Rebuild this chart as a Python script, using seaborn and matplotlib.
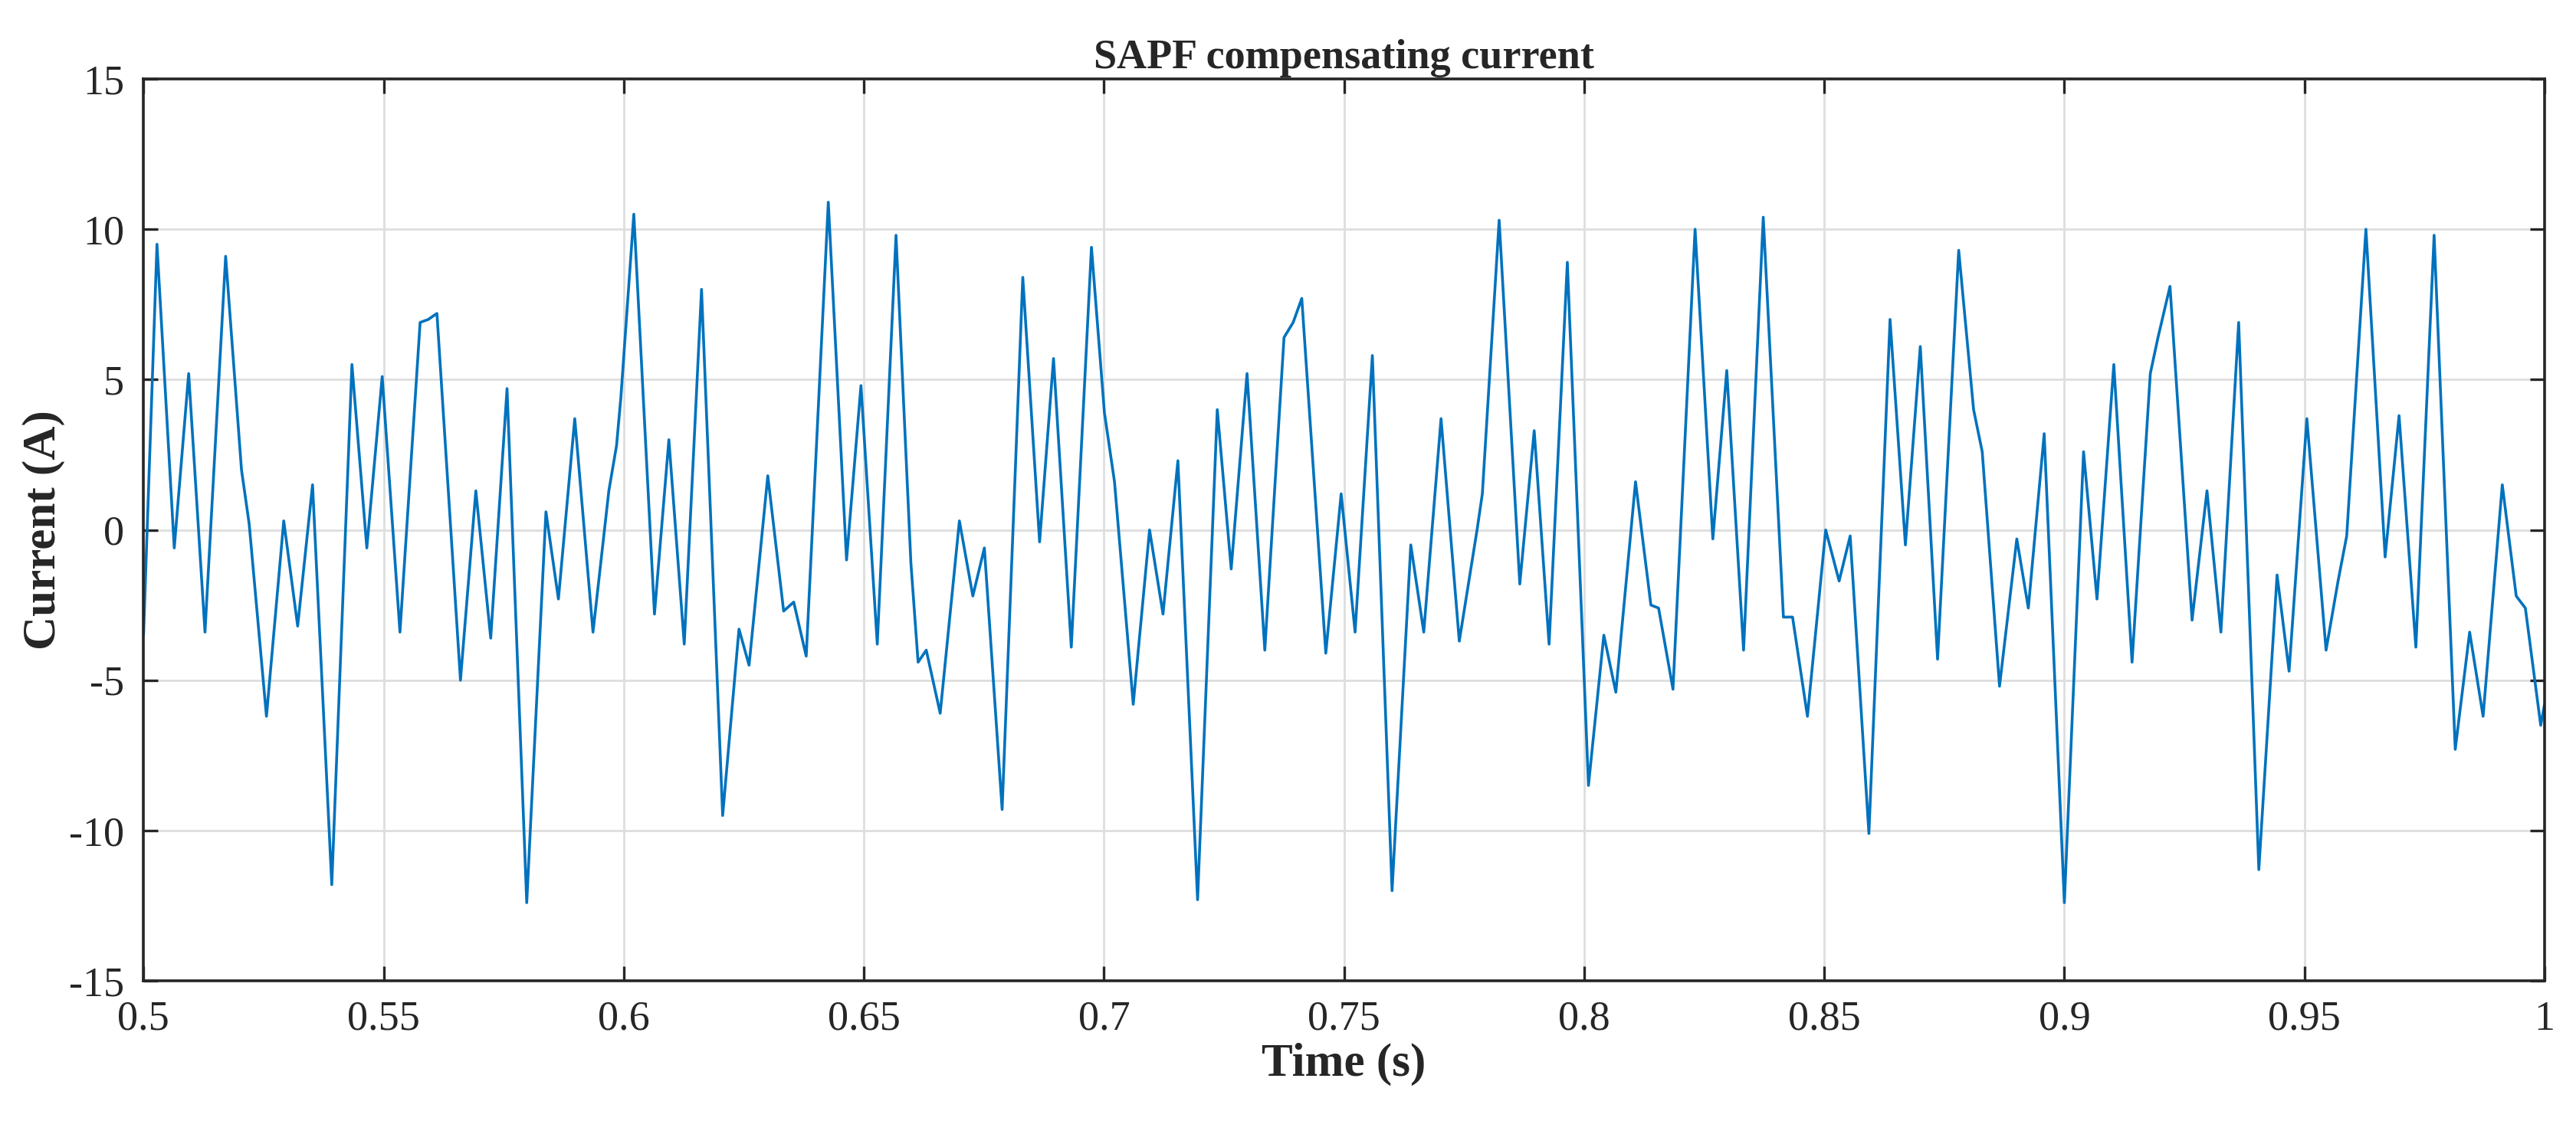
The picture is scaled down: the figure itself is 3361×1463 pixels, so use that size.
import numpy as np
import pandas as pd
import matplotlib
matplotlib.use("Agg")
import matplotlib.pyplot as plt
import seaborn as sns

# values (peaks, troughs and shoulders of the waveform)
time_s = [
    0.5000, 0.5028, 0.5064, 0.5094, 0.5128, 0.5171, 0.5204, 0.5220, 0.5256, 0.5292,
    0.5321, 0.5352, 0.5392, 0.5434, 0.5465, 0.5497, 0.5534, 0.5576, 0.5593, 0.5611,
    0.5660, 0.5692, 0.5723, 0.5757, 0.5798, 0.5838, 0.5864, 0.5898, 0.5936, 0.5969,
    0.5985, 0.5994, 0.6021, 0.6064, 0.6094, 0.6126, 0.6162, 0.6206, 0.6240, 0.6261,
    0.6300, 0.6333, 0.6354, 0.6380, 0.6426, 0.6464, 0.6494, 0.6528, 0.6567, 0.6598,
    0.6613, 0.6630, 0.6659, 0.6699, 0.6727, 0.6751, 0.6788, 0.6831, 0.6866, 0.6895,
    0.6932, 0.6974, 0.7001, 0.7022, 0.7061, 0.7095, 0.7123, 0.7154, 0.7195, 0.7236,
    0.7265, 0.7298, 0.7335, 0.7375, 0.7394, 0.7412, 0.7462, 0.7494, 0.7523, 0.7559,
    0.7600, 0.7639, 0.7666, 0.7702, 0.7740, 0.7777, 0.7788, 0.7823, 0.7866, 0.7896,
    0.7927, 0.7965, 0.8009, 0.8041, 0.8066, 0.8107, 0.8139, 0.8155, 0.8185, 0.8231,
    0.8268, 0.8297, 0.8332, 0.8373, 0.8415, 0.8434, 0.8465, 0.8503, 0.8531, 0.8554,
    0.8593, 0.8637, 0.8669, 0.8700, 0.8736, 0.8780, 0.8811, 0.8829, 0.8865, 0.8901,
    0.8925, 0.8958, 0.9000, 0.9040, 0.9068, 0.9103, 0.9141, 0.9179, 0.9195, 0.9220,
    0.9266, 0.9297, 0.9326, 0.9363, 0.9405, 0.9443, 0.9468, 0.9505, 0.9545, 0.9570,
    0.9588, 0.9628, 0.9668, 0.9697, 0.9732, 0.9770, 0.9814, 0.9844, 0.9872, 0.9912,
    0.9941, 0.9960, 0.9992, 1.0000,
]
current_a = [
    -3.5, 9.5, -0.6, 5.2, -3.4, 9.1, 2.0, 0.2, -6.2, 0.3,
    -3.2, 1.5, -11.8, 5.5, -0.6, 5.1, -3.4, 6.9, 7.0, 7.2,
    -5.0, 1.3, -3.6, 4.7, -12.4, 0.6, -2.3, 3.7, -3.4, 1.3,
    2.8, 4.4, 10.5, -2.8, 3.0, -3.8, 8.0, -9.5, -3.3, -4.5,
    1.8, -2.7, -2.4, -4.2, 10.9, -1.0, 4.8, -3.8, 9.8, -1.1,
    -4.4, -4.0, -6.1, 0.3, -2.2, -0.6, -9.3, 8.4, -0.4, 5.7,
    -3.9, 9.4, 3.9, 1.6, -5.8, 0.0, -2.8, 2.3, -12.3, 4.0,
    -1.3, 5.2, -4.0, 6.4, 6.9, 7.7, -4.1, 1.2, -3.4, 5.8,
    -12.0, -0.5, -3.4, 3.7, -3.7, 0.0, 1.2, 10.3, -1.8, 3.3,
    -3.8, 8.9, -8.5, -3.5, -5.4, 1.6, -2.5, -2.6, -5.3, 10.0,
    -0.3, 5.3, -4.0, 10.4, -2.9, -2.9, -6.2, 0.0, -1.7, -0.2,
    -10.1, 7.0, -0.5, 6.1, -4.3, 9.3, 4.0, 2.6, -5.2, -0.3,
    -2.6, 3.2, -12.4, 2.6, -2.3, 5.5, -4.4, 5.2, 6.4, 8.1,
    -3.0, 1.3, -3.4, 6.9, -11.3, -1.5, -4.7, 3.7, -4.0, -1.7,
    -0.2, 10.0, -0.9, 3.8, -3.9, 9.8, -7.3, -3.4, -6.2, 1.5,
    -2.2, -2.6, -6.5, -5.8,
]

x_ticks = [0.5, 0.55, 0.6, 0.65, 0.7, 0.75, 0.8, 0.85, 0.9, 0.95, 1.0]
x_tick_labels = ["0.5", "0.55", "0.6", "0.65", "0.7", "0.75", "0.8", "0.85", "0.9", "0.95", "1"]
y_ticks = [-15, -10, -5, 0, 5, 10, 15]
y_tick_labels = ["-15", "-10", "-5", "0", "5", "10", "15"]

df = pd.DataFrame({"t": time_s, "i": current_a})

sns.set_theme(style="whitegrid")
plt.rcParams["font.family"] = ["Liberation Serif", "DejaVu Serif"]
plt.rcParams["axes.unicode_minus"] = False

fig = plt.figure(figsize=(16.81, 7.315), dpi=200)
ax = fig.add_axes([0.0557, 0.125, 0.9318, 0.8046])

sns.lineplot(data=df, x="t", y="i", ax=ax, color="#0072BD", linewidth=1.3,
             estimator=None, sort=False)

ax.set_xlim(0.5, 1.0)
ax.set_ylim(-15, 15)
ax.set_xticks(x_ticks)
ax.set_xticklabels(x_tick_labels)
ax.set_yticks(y_ticks)
ax.set_yticklabels(y_tick_labels)
ax.tick_params(axis="both", labelsize=19.5, direction="in", length=7, width=1.2,
               top=True, right=True, bottom=True, left=True, colors="#262626",
               labelcolor="#262626", pad=9)

ax.grid(True, color="#dedede", linewidth=1.0)
ax.set_facecolor("white")
for sp in ax.spines.values():
    sp.set_color("#262626")
    sp.set_linewidth(1.3)

ax.set_title("SAPF compensating current", fontsize=19.5, fontweight="bold", pad=5)
ax.set_xlabel("Time (s)", fontsize=22, fontweight="bold", labelpad=2)
ax.set_ylabel("Current (A)", fontsize=22, fontweight="bold", labelpad=2)

fig.savefig("out.png", dpi=200, facecolor="white")
